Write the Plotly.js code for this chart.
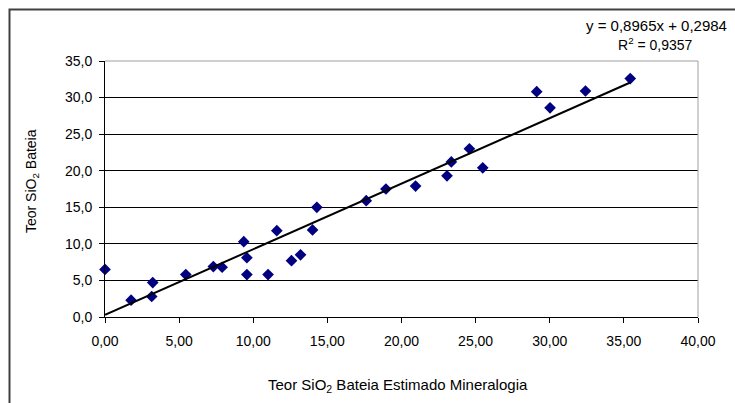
<!DOCTYPE html>
<html>
<head>
<meta charset="utf-8">
<script src="https://cdn.plot.ly/plotly-3.0.1.min.js"></script>
<style>
html,body{margin:0;padding:0;background:#fff;}
#chart{width:735px;height:403px;}
</style>
</head>
<body>
<div id="chart"></div>
<script>
// Data (x = Teor SiO2 Bateia Estimado Mineralogia, y = Teor SiO2 Bateia)
const xValues = [0.00, 1.76, 3.22, 3.15, 5.45, 7.31, 7.90, 9.36, 9.57, 9.57, 11.00, 11.59, 12.58, 13.19,
                 14.00, 14.29, 17.62, 18.95, 20.95, 23.07, 23.36, 24.58, 25.48, 29.12, 30.02, 32.41, 35.43];
const yValues = [6.5, 2.3, 4.7, 2.8, 5.8, 6.9, 6.8, 10.3, 8.1, 5.8, 5.8, 11.8, 7.7, 8.5,
                 11.9, 15.0, 15.9, 17.5, 17.9, 19.3, 21.2, 23.0, 20.4, 30.8, 28.6, 30.9, 32.6];
// Linear trendline coefficients as displayed in the chart
const trendSlope = 0.8965;
const trendIntercept = 0.2984;
const equationText = 'y = 0,8965x + 0,2984';
const r2Text = 'R<sup>2</sup> = 0,9357';
const xTitle = 'Teor SiO<sub>2</sub> Bateia Estimado Mineralogia';
const yTitle = 'Teor SiO<sub>2</sub> Bateia';

const xMin = Math.min(...xValues), xMax = Math.max(...xValues);
const trendX = [xMin, xMax];
const trendY = trendX.map(v => trendSlope * v + trendIntercept);

const font = 'Liberation Sans, Arial, sans-serif';

const traces = [
  {
    x: xValues, y: yValues, type: 'scatter', mode: 'markers',
    marker: {symbol: 'diamond', size: 9, color: '#000080', line: {width: 0}},
    hoverinfo: 'x+y', cliponaxis: false
  },
  {
    x: trendX, y: trendY, type: 'scatter', mode: 'lines',
    line: {color: '#000000', width: 2}, hoverinfo: 'skip', cliponaxis: false
  }
];

const W = 593, H = 256; // plot area size in px
const layout = {
  width: 735, height: 403,
  margin: {l: 105, r: 37, t: 61, b: 86, pad: 0},
  paper_bgcolor: '#ffffff', plot_bgcolor: '#ffffff',
  showlegend: false,
  font: {family: font, size: 14, color: '#000000'},
  separators: ',.',
  xaxis: {
    range: [0, 40], dtick: 5, tick0: 0, tickformat: '.2f',
    showgrid: false, zeroline: false,
    showline: true, linecolor: '#000000', linewidth: 1,
    ticks: 'outside', ticklen: 5, tickcolor: '#000000', tickwidth: 1,
    ticklabelstandoff: 6,
    tickfont: {family: font, size: 14, color: '#000000'},
    fixedrange: true
  },
  yaxis: {
    range: [0, 35], dtick: 5, tick0: 0, tickformat: '.1f',
    showgrid: true, gridcolor: '#000000', gridwidth: 1,
    zeroline: false,
    showline: true, linecolor: '#000000', linewidth: 1,
    ticks: 'outside', ticklen: 5, tickcolor: '#000000', tickwidth: 1,
    ticklabelstandoff: 4,
    tickfont: {family: font, size: 14, color: '#000000'},
    fixedrange: true
  },
  shapes: [
    // plot area border (top and right, grey)
    {type: 'line', xref: 'paper', yref: 'paper', x0: 0, x1: 1, y0: 1, y1: 1, line: {color: '#a0a0a0', width: 1}, layer: 'above'},
    {type: 'line', xref: 'paper', yref: 'paper', x0: 1, x1: 1, y0: 0, y1: 1, line: {color: '#a0a0a0', width: 1}, layer: 'above'},
    // chart area border (dark), extends beyond the window at right and bottom
    {type: 'rect', xref: 'paper', yref: 'paper',
     x0: (9.5 - 105) / W, x1: 1.2, y0: -0.5, y1: (317 - 9.5) / H,
     line: {color: '#404040', width: 2}, fillcolor: 'rgba(0,0,0,0)', layer: 'below'}
  ],
  annotations: [
    {text: xTitle, xref: 'paper', yref: 'paper', x: (398 - 105) / W, y: (317 - 385) / H,
     xanchor: 'center', yanchor: 'middle', showarrow: false, font: {family: font, size: 15, color: '#000000'}},
    {text: yTitle, xref: 'paper', yref: 'paper', x: (32 - 105) / W, y: (317 - 181) / H,
     xanchor: 'center', yanchor: 'middle', textangle: -90, showarrow: false, font: {family: font, size: 14, color: '#000000'}},
    {text: equationText, xref: 'paper', yref: 'paper', x: (656 - 105) / W, y: (317 - 25) / H,
     xanchor: 'center', yanchor: 'middle', showarrow: false, font: {family: font, size: 15, color: '#000000'}},
    {text: r2Text, xref: 'paper', yref: 'paper', x: (655 - 105) / W, y: (317 - 44) / H,
     xanchor: 'center', yanchor: 'middle', showarrow: false, font: {family: font, size: 14, color: '#000000'}}
  ]
};

Plotly.newPlot('chart', traces, layout, {staticPlot: true, displayModeBar: false});
</script>
</body>
</html>
